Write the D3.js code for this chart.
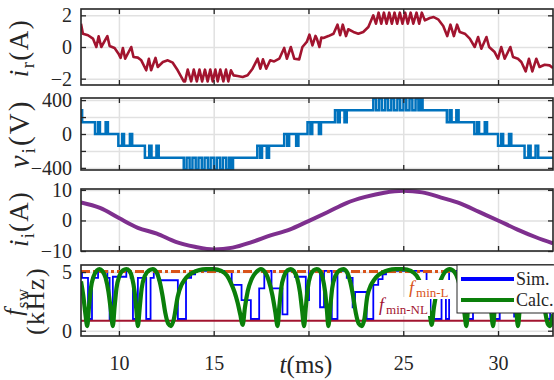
<!DOCTYPE html>
<html>
<head>
<meta charset="utf-8">
<script src="https://cdn.jsdelivr.net/npm/d3@7"></script>
<style>
  html, body { margin: 0; padding: 0; background: #fff; }
  svg { display: block; font-family: "Liberation Serif", "DejaVu Serif", serif; }
</style>
</head>
<body>
<div id="chart"></div>
<script>
// time axis
const tDomain = [8, 32.9];
const xTicks = [10, 15, 20, 25, 30];
const xTickLabels = [10, 15, 25, 30];

// i_r (A): [t ms, A]
const irData = [
  [8.0,1.47],[8.1,0.84],[8.37,0.74],[8.63,0.53],[8.81,0],[8.93,0.67],[9.07,0],[9.39,0.69],[9.51,0.06],
  [9.77,-0.06],[9.98,-0.42],[10.09,-0.69],[10.21,-0.06],[10.33,-0.74],[10.65,0],[10.77,-0.63],[11.0,-0.67],
  [11.18,-0.84],[11.44,-1.47],[11.58,-0.74],[11.7,-1.47],[11.93,-0.69],[12.05,-1.26],[12.32,-0.95],
  [12.58,-0.84],[12.84,-0.99],[13.1,-1.47],[13.42,-2.17],[13.49,-2.17],[13.63,-1.43],[13.81,-2.17],
  [13.95,-1.43],[14.11,-2.17],[14.25,-1.43],[14.39,-2.17],[14.54,-1.43],[14.68,-2.17],[14.82,-1.43],
  [14.95,-2.17],[15.09,-1.43],[15.21,-2.17],[15.35,-1.43],[15.51,-2.17],[15.65,-1.43],[15.77,-2.17],
  [15.91,-1.47],[16.05,-1.79],[16.26,-1.83],[16.53,-1.89],[16.79,-1.79],[17.05,-1.37],[17.32,-0.74],
  [17.46,-1.37],[17.6,-0.78],[17.77,-1.37],[17.98,-0.84],[18.19,-0.91],[18.46,-0.74],[18.72,-0.06],
  [18.86,-0.74],[19.07,0],[19.25,-0.74],[19.51,-0.78],[19.68,0],[19.91,0.32],[20.05,0.78],[20.21,0.1],
  [20.37,0.7],[20.45,0.5],[20.58,0],[20.68,0.6],[20.79,0.57],[21.05,0.69],[21.32,0.84],[21.53,1.41],
  [21.67,0.74],[21.81,1.41],[21.98,0.69],[22.1,1.12],[22.37,0.95],[22.63,0.84],[22.89,0.95],[23.16,1.26],
  [23.42,2.0],[23.56,1.47],[23.7,2.17],[23.84,1.47],[23.98,2.17],[24.12,1.47],[24.26,2.17],[24.4,1.47],
  [24.54,2.17],[24.68,1.47],[24.82,2.17],[24.96,1.47],[25.1,2.17],[25.24,1.47],[25.39,2.17],[25.53,1.47],
  [25.7,2.17],[25.84,1.47],[25.98,2.17],[26.14,1.68],[26.4,1.83],[26.61,1.89],[26.84,1.75],[27.11,1.33],
  [27.32,0.69],[27.49,1.41],[27.67,0.69],[27.84,1.41],[27.98,0.95],[28.25,0.84],[28.51,0.53],[28.77,0],
  [28.95,0.63],[29.12,-0.11],[29.39,0.63],[29.53,0],[29.82,-0.32],[30.0,-0.74],[30.17,0],[30.35,-0.74],
  [30.65,0],[30.79,-0.63],[31.05,-0.74],[31.23,-0.95],[31.46,-1.54],[31.63,-0.74],[31.81,-1.54],
  [32.02,-0.74],[32.19,-1.26],[32.46,-1.12],[32.72,-1.16],[32.9,-1.33]
];

// v_i (V): step-after breakpoints [t ms, V]
const viSteps = [
  [8.0,280],[8.06,140],
  [8.74,0],[8.9,140],[9.0,0],[9.3,140],[9.42,0],
  [9.97,-140],[10.17,0],[10.27,-140],[10.58,0],[10.7,-140],
  [11.37,-280],[11.6,-140],[11.72,-280],[11.98,-140],[12.1,-280],
  [13.42,-420],[13.57,-280],[13.73,-420],[13.88,-280],[14.05,-420],[14.2,-280],[14.37,-420],[14.52,-280],
  [14.69,-420],[14.84,-280],[15.01,-420],[15.16,-280],[15.33,-420],[15.48,-280],[15.65,-420],[15.8,-280],
  [15.9,-420],[16.02,-280],
  [17.3,-140],[17.45,-280],[17.55,-140],[17.8,-280],[17.92,-140],
  [18.72,0],[18.88,-140],[18.98,0],[19.35,-140],[19.47,0],
  [19.95,140],[20.1,0],[20.2,140],[20.55,0],[20.66,140],
  [21.4,280],[21.55,140],[21.65,280],[21.9,140],[22.02,280],
  [23.42,420],[23.57,280],[23.73,420],[23.88,280],[24.05,420],[24.2,280],[24.37,420],[24.52,280],
  [24.69,420],[24.84,280],[25.01,420],[25.16,280],[25.33,420],[25.48,280],[25.65,420],[25.8,280],
  [25.9,420],[26.02,280],
  [27.3,140],[27.45,280],[27.55,140],[27.8,280],[27.92,140],
  [28.75,0],[28.9,140],[29.0,0],[29.3,140],[29.42,0],
  [30.0,-140],[30.17,0],[30.27,-140],[30.58,0],[30.7,-140],
  [31.4,-280],[31.6,-140],[31.72,-280],[31.98,-140],[32.12,-280],[32.9,-280]
];

// i_i (A)
const iiData = [
  [8,5.9],[9,4.1],[10,0.8],[11,-2.4],[12,-4.3],[13,-7.0],[14,-8.6],[15,-9.5],[16,-8.9],[17,-7.1],
  [18,-4.9],[19,-3.0],[20,-0.2],[21,2.7],[22,5.7],[23,7.7],[24,9.1],[25,9.7],[26,9.2],[27,7.5],
  [28,5.6],[29,2.8],[30,0.0],[31,-2.9],[32,-5.5],[32.9,-7.5]
];

// f_sw (kHz) simulated: step-after
const fSim = [
  [8.0,5.1],[8.05,4.5],[8.37,1.0],[8.58,4.5],[8.9,5.1],[9.39,4.5],[9.51,1.0],[9.68,4.6],[10.39,5.1],
  [10.62,4.5],[10.74,1.0],[11.0,4.5],[11.44,1.0],[11.67,4.5],[11.84,5.1],[12.09,4.3],[13.11,1.0],
  [13.54,4.5],[13.81,4.8],[14.02,5.1],[15.95,3.9],[16.47,2.6],[16.96,1.0],[17.4,3.6],[17.67,5.1],
  [18.05,3.6],[18.63,1.4],[18.89,5.1],[19.28,4.6],[19.86,2.6],[20.03,5.1],[20.61,2.0],[20.82,5.1],
  [21.23,1.0],[21.53,5.1],[22.02,4.5],[22.33,2.0],[22.46,3.3],[23.07,1.0],[23.42,3.9],[23.68,4.4],
  [23.91,4.8],[24.09,5.1],[26.23,3.0],[26.44,1.0],[27.02,3.5],[27.25,1.0],[27.42,5.1],[28.42,1.0],
  [28.68,5.1],[29.82,1.0],[30.09,5.1],[30.85,1.2],[31.05,5.1],[32.55,1.0],[32.75,5.1],[32.9,5.1]
];

// f_sw (kHz) calculated
const fCalc = [
  [8.0,4.2],[8.12,3.0],[8.22,1.6],[8.33,0.4],
  [8.42,2.0],[8.52,3.6],[8.68,4.7],[8.85,5.15],[8.98,5.25],[9.12,5.1],[9.3,4.5],[9.45,3.3],[9.57,1.8],[9.68,0.4],
  [9.77,2.0],[9.87,3.6],[10.03,4.7],[10.22,5.15],[10.39,5.25],[10.55,5.1],[10.7,4.5],[10.83,3.3],[10.92,1.8],[11.0,0.4],
  [11.1,2.0],[11.2,3.6],[11.38,4.7],[11.6,5.15],[11.79,5.25],[11.98,5.0],[12.15,4.2],[12.3,3.0],[12.45,1.5],[12.6,0.6],[12.75,0.4],[12.9,1.0],
  [13.1,2.9],[13.3,3.9],[13.45,4.3],[13.7,4.75],[13.9,4.95],[14.2,5.15],[14.6,5.25],[15.0,5.25],[15.4,5.1],[15.7,4.7],[15.9,4.1],[16.1,3.3],[16.26,2.4],[16.4,1.4],[16.53,0.5],
  [16.65,2.0],[16.8,3.4],[17.0,4.4],[17.25,5.0],[17.49,5.25],[17.7,5.0],[17.9,4.3],[18.1,3.0],[18.25,1.6],[18.37,0.4],
  [18.46,2.0],[18.56,3.6],[18.72,4.7],[18.9,5.15],[19.07,5.25],[19.22,5.1],[19.4,4.5],[19.55,3.3],[19.66,1.8],[19.77,0.4],
  [19.86,2.0],[19.96,3.6],[20.1,4.7],[20.28,5.15],[20.44,5.25],[20.6,5.1],[20.75,4.5],[20.88,3.3],[20.97,1.8],[21.05,0.4],
  [21.15,2.0],[21.25,3.6],[21.43,4.7],[21.65,5.15],[21.84,5.25],[22.03,5.0],[22.2,4.2],[22.35,3.0],[22.5,1.5],[22.65,0.6],[22.81,0.4],[22.95,1.0],
  [23.1,2.9],[23.3,3.9],[23.45,4.3],[23.7,4.75],[23.9,4.95],[24.2,5.15],[24.6,5.25],[25.0,5.25],[25.4,5.1],[25.7,4.7],[25.9,4.1],[26.1,3.3],[26.26,2.4],[26.4,1.4],[26.5,0.5],
  [26.62,2.0],[26.78,3.4],[27.0,4.4],[27.2,5.0],[27.45,5.25],[27.7,5.0],[27.9,4.3],[28.08,3.0],[28.22,1.6],[28.33,0.4],
  [28.42,2.0],[28.52,3.6],[28.68,4.7],[28.86,5.15],[29.03,5.25],[29.2,5.1],[29.38,4.5],[29.52,3.3],[29.63,1.8],[29.74,0.4],
  [29.83,2.0],[29.93,3.6],[30.08,4.7],[30.25,5.15],[30.4,5.25],[30.56,5.1],[30.72,4.5],[30.86,3.3],[30.96,1.8],[31.05,0.4],
  [31.15,2.0],[31.25,3.6],[31.43,4.7],[31.65,5.15],[31.85,5.25],[32.03,5.0],[32.2,4.2],[32.35,3.0],[32.5,1.5],[32.62,0.6],[32.75,0.4],[32.9,1.4]
];

// reference levels (kHz)
const fMinL = 5.05;
const fMinNL = 0.85;

const legendNames = ["Sim.", "Calc."];

const W = 554, H = 380;
const left = 81, right = 553;

const svg = d3.select("#chart").append("svg")
  .attr("width", W)
  .attr("height", H);

const x = d3.scaleLinear().domain(tDomain).range([left, right]);

const panels = [
  { top: 9, bottom: 85, domain: [-2.4, 2.4], ticks: [-2, 0, 2], grid: [-2, 0, 2] },
  { top: 98, bottom: 170, domain: [-425, 425], ticks: [-400, 0, 400], grid: [-400, -200, 0, 200, 400], minor: [-200, 200] },
  { top: 189, bottom: 251, domain: [-10, 10.3], ticks: [-10, 0, 10], grid: [-10, 0, 10] },
  { top: 265, bottom: 336, domain: [-0.45, 5.6], ticks: [0, 5], grid: [0, 5] }
];

panels.forEach((p, i) => {
  p.y = d3.scaleLinear().domain(p.domain).range([p.bottom, p.top]);
  p.g = svg.append("g");
  const h = p.bottom - p.top;

  // clip
  svg.append("clipPath").attr("id", "clip" + i)
    .append("rect").attr("x", left).attr("y", p.top).attr("width", right - left).attr("height", h);

  // grid
  p.g.append("g")
    .attr("transform", "translate(0," + p.bottom + ")")
    .call(d3.axisBottom(x).tickValues(xTicks).tickSize(-h).tickFormat(""))
    .call(g => g.select(".domain").remove())
    .call(g => g.selectAll("line").attr("stroke", "#e1e1e1").attr("stroke-width", 1.5));
  p.g.append("g")
    .attr("transform", "translate(" + left + ",0)")
    .call(d3.axisLeft(p.y).tickValues(p.grid).tickSize(-(right - left)).tickFormat(""))
    .call(g => g.select(".domain").remove())
    .call(g => g.selectAll("line").attr("stroke", "#e1e1e1").attr("stroke-width", 1.5));

  p.plot = p.g.append("g").attr("clip-path", "url(#clip" + i + ")");
});

// panel 1: i_r
panels[0].plot.append("path")
  .datum(irData)
  .attr("fill", "none")
  .attr("stroke", "#A2142F")
  .attr("stroke-width", 2.6)
  .attr("stroke-linejoin", "round")
  .attr("d", d3.line().x(d => x(d[0])).y(d => panels[0].y(d[1])));

// panel 2: v_i
panels[1].plot.append("path")
  .datum(viSteps)
  .attr("fill", "none")
  .attr("stroke", "#0072BD")
  .attr("stroke-width", 2.5)
  .attr("d", d3.line().curve(d3.curveStepAfter).x(d => x(d[0])).y(d => panels[1].y(d[1])));

// panel 3: i_i
panels[2].plot.append("path")
  .datum(iiData)
  .attr("fill", "none")
  .attr("stroke", "#7E2F8E")
  .attr("stroke-width", 4)
  .attr("d", d3.line().curve(d3.curveMonotoneX).x(d => x(d[0])).y(d => panels[2].y(d[1])));

// panel 4: f_sw
const p4 = panels[3];
p4.plot.append("path")
  .datum(fSim)
  .attr("fill", "none")
  .attr("stroke", "#0000FF")
  .attr("stroke-width", 1.8)
  .attr("d", d3.line().curve(d3.curveStepAfter).x(d => x(d[0])).y(d => p4.y(d[1])));

p4.plot.append("line")
  .attr("x1", x(tDomain[0])).attr("x2", x(tDomain[1]))
  .attr("y1", p4.y(fMinNL)).attr("y2", p4.y(fMinNL))
  .attr("stroke", "#A2142F").attr("stroke-width", 2);

p4.plot.append("line")
  .attr("x1", x(tDomain[0])).attr("x2", x(tDomain[1]))
  .attr("y1", p4.y(fMinL)).attr("y2", p4.y(fMinL))
  .attr("stroke", "#D95319").attr("stroke-width", 3)
  .attr("stroke-dasharray", "9,3,3,3");

p4.plot.append("path")
  .datum(fCalc)
  .attr("fill", "none")
  .attr("stroke", "#0A7F0A")
  .attr("stroke-width", 4.2)
  .attr("stroke-linejoin", "round")
  .attr("d", d3.line().curve(d3.curveMonotoneX).x(d => x(d[0])).y(d => p4.y(d[1])));

// reference line labels (white backing, like the original annotations)
const fLabel = (xp, yp, sub, color) => {
  const g = svg.append("g");
  const bg = g.append("rect").attr("fill", "#fff");
  const t = g.append("text").attr("x", xp).attr("y", yp).attr("fill", color).attr("font-size", 18);
  t.append("tspan").attr("font-style", "italic").text("f");
  t.append("tspan").attr("font-size", 13).attr("dx", 2).attr("dy", 3).text(sub);
  const b = t.node().getBBox();
  bg.attr("x", b.x - 2).attr("y", b.y + 2).attr("width", b.width + 4).attr("height", b.height - 3);
};
fLabel(409, 294, "min-L", "#D95319");
fLabel(379, 311, "min-NL", "#A2142F");

// frames and inward ticks
panels.forEach(p => {
  const g = p.g;
  const tick = 5;
  const styleAxis = sel => {
    sel.select(".domain").remove();
    sel.selectAll("line").attr("stroke", "#262626").attr("stroke-width", 1.3);
    sel.selectAll("text").attr("fill", "#262626").attr("font-size", 20)
      .attr("font-family", "'Liberation Serif', serif");
  };
  g.append("g").attr("transform", "translate(" + left + ",0)")
    .call(d3.axisLeft(p.y).tickValues(p.ticks).tickSize(-tick).tickPadding(9).tickFormat(d3.format("d")))
    .call(styleAxis);
  if (p.minor) {
    g.append("g").attr("transform", "translate(" + left + ",0)")
      .call(d3.axisLeft(p.y).tickValues(p.minor).tickSize(-tick).tickFormat(""))
      .call(styleAxis);
    g.append("g").attr("transform", "translate(" + right + ",0)")
      .call(d3.axisRight(p.y).tickValues(p.minor).tickSize(-tick).tickFormat(""))
      .call(styleAxis);
  }
  g.append("g").attr("transform", "translate(" + right + ",0)")
    .call(d3.axisRight(p.y).tickValues(p.ticks).tickSize(-tick).tickFormat(""))
    .call(styleAxis);
  g.append("g").attr("transform", "translate(0," + p.top + ")")
    .call(d3.axisTop(x).tickValues(xTicks).tickSize(-tick).tickFormat(""))
    .call(styleAxis);
  g.append("g").attr("transform", "translate(0," + p.bottom + ")")
    .call(d3.axisBottom(x).tickValues(xTicks).tickSize(-tick).tickFormat(""))
    .call(styleAxis);
  g.append("rect")
    .attr("x", left).attr("y", p.top)
    .attr("width", right - left).attr("height", p.bottom - p.top)
    .attr("fill", "none").attr("stroke", "#262626").attr("stroke-width", 1.6);
});

// legend
const lg = svg.append("g");
lg.append("rect").attr("x", 457).attr("y", p4.top).attr("width", 110).attr("height", 48)
  .attr("fill", "#fff").attr("stroke", "#262626").attr("stroke-width", 1);
[["#0000FF", 4], ["#0A7F0A", 4.2]].forEach((s, i) => {
  const yy = 279 + i * 21;
  lg.append("line").attr("x1", 461).attr("x2", 514).attr("y1", yy).attr("y2", yy)
    .attr("stroke", s[0]).attr("stroke-width", s[1]);
  lg.append("text").attr("x", 516).attr("y", yy + 6).attr("font-size", 18).attr("fill", "#262626")
    .text(legendNames[i]);
});

// x tick labels
svg.append("g")
  .attr("transform", "translate(0,356)")
  .call(d3.axisBottom(x).tickValues(xTickLabels).tickSize(0).tickPadding(0).tickFormat(d3.format("d")))
  .call(g => g.select(".domain").remove())
  .call(g => g.selectAll("text").attr("font-size", 20).attr("fill", "#262626")
    .attr("font-family", "'Liberation Serif', serif"));

const xl = svg.append("text").attr("x", 306).attr("y", 373).attr("text-anchor", "middle")
  .attr("font-size", 25).attr("fill", "#262626");
xl.append("tspan").attr("font-style", "italic").text("t");
xl.append("tspan").text("(ms)");

// y labels
const yLabel = (bx, cy, main, sub, rest, size, spacing) => {
  const t = svg.append("text")
    .attr("transform", "translate(" + bx + "," + cy + ") rotate(-90)")
    .attr("text-anchor", "middle").attr("font-size", size).attr("fill", "#262626")
    .attr("letter-spacing", spacing || 0);
  t.append("tspan").attr("font-style", "italic").text(main);
  if (sub) t.append("tspan").attr("font-size", size * 0.68).attr("dy", size * 0.22).text(sub);
  if (rest) t.append("tspan").attr("dy", sub ? -size * 0.22 : 0).text(rest);
  return t;
};
yLabel(28, 48, "i", "r", "(A)", 27, 1.5);
yLabel(29, 134, "v", "i", "(V)", 29, 2);
yLabel(28, 219, "i", "i", "(A)", 27, 1.2);
yLabel(22, 302, "f", "sw", null, 25, 0.5);
yLabel(44, 301, "", null, "(kHz)", 26, 1.5);
</script>
</body>
</html>
